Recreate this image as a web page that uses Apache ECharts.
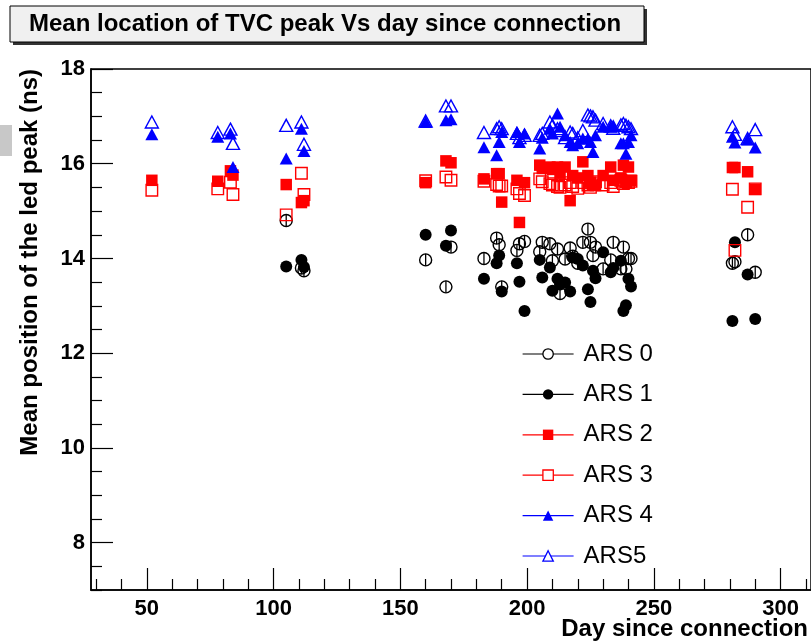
<!DOCTYPE html>
<html>
<head>
<meta charset="utf-8">
<script src="https://cdn.jsdelivr.net/npm/echarts@6/dist/echarts.min.js"></script>
<style>
  html, body { margin: 0; padding: 0; background: #fff; }
  #main { width: 811px; height: 642px; }
</style>
</head>
<body>
<div id="main"></div>
<script>
// Day since connection for each measurement
const days = [52, 78, 83, 84, 105, 111, 112, 160, 168, 170,
  183, 188, 189, 190, 196, 197, 199,
  205, 206, 209, 210, 212, 213, 215, 217, 218, 220, 222, 224, 225, 226, 227,
  230, 233, 234, 237, 238, 239, 240, 241,
  281, 282, 287, 290];

// Mean TVC peak position (ns) per ARS channel
const ars0 = [null, null, null, null, 14.80, 13.80, 13.74, 13.97, 13.40, 14.24,
  14.00, 14.43, 14.29, 13.40, 14.17, 14.31, 14.36,
  14.14, 14.34, 14.31, 13.95, 14.20, 13.26, 13.99, 14.22, 14.05, 13.90, 14.34, 14.62, 14.34, 14.06, 14.24,
  13.78, 13.97, 14.34, 13.78, 14.24, 13.78, 14.00, 14.00,
  13.90, 13.93, 14.50, 13.71];
const ars1 = [null, null, null, null, 13.83, 13.97, 13.82, 14.50, 14.27, 14.59,
  13.57, 13.90, 14.06, 13.30, 13.90, 13.51, 12.89,
  13.97, 13.60, 13.81, 13.32, 13.57, 13.45, 13.49, 13.30, 14.02, 13.99, 13.85, 13.35, 13.08, 13.74, 13.58,
  14.13, 13.71, 13.80, 13.95, 12.89, 13.01, 13.57, 13.41,
  12.68, 14.34, 13.66, 12.72];
const ars2 = [15.65, 15.63, 15.85, 15.76, 15.56, 15.18, 15.22, 15.60, 16.06, 16.02,
  15.68, 15.79, 15.79, 15.19, 15.65, 14.76, 15.60,
  15.97, 15.90, 15.93, 15.88, 15.93, 15.80, 15.93, 15.22, 15.75, 15.70, 16.04, 15.75, 15.61, 15.55, 15.54,
  15.75, 15.93, 15.65, 15.70, 15.97, 15.60, 15.93, 15.65,
  15.92, 15.92, 15.83, 15.46];
const ars3 = [15.44, 15.47, 15.61, 15.35, 14.92, 15.80, 15.35, 15.64, 15.72, 15.65,
  15.63, 15.56, 15.53, 15.53, 15.47, 15.37, 15.33,
  15.68, 15.62, 15.58, 15.55, 15.52, 15.50, 15.55, 15.60, 15.52, 15.48, 15.60, 15.55, 15.50, 15.58, 15.62,
  15.55, 15.60, 15.52, 15.65, 15.58, 15.62, 15.60, 15.63,
  15.46, 14.17, 15.08, 15.47];
const ars4 = [16.62, 16.57, 16.64, 15.93, 16.11, 16.74, 16.27, 16.88, 16.92, 16.94,
  16.35, 16.18, 16.46, 16.67, 16.67, 16.46, 16.64,
  16.32, 16.55, 16.74, 16.64, 17.06, 16.78, 16.60, 16.46, 16.39, 16.43, 16.53, 16.53, 16.46, 16.25, 16.60,
  16.78, 16.78, 16.81, 16.43, 16.43, 16.21, 16.46, 16.60,
  16.57, 16.45, 16.51, 16.34];
const ars5 = [16.88, 16.66, 16.73, 16.43, 16.81, 16.88, 16.41, 16.90, 17.22, 17.22,
  16.66, 16.74, 16.78, 16.74, 16.64, 16.55, 16.60,
  16.60, 16.64, 16.88, 16.81, 16.74, 16.70, 16.55, 16.67, 16.64, 16.55, 16.70, 17.03, 17.01, 16.99, 16.92,
  16.85, 16.80, 16.75, 16.82, 16.85, 16.81, 16.78, 16.74,
  16.78, 16.62, 16.53, 16.72];

// Axis ticks and labels
const xMajor = [50, 100, 150, 200, 250, 300];
const xMinor = [30, 40, 60, 70, 80, 90, 110, 120, 130, 140, 160, 170, 180, 190,
  210, 220, 230, 240, 260, 270, 280, 290, 310];
const yMajor = [8, 10, 12, 14, 16, 18];
const yMinor = [7, 7.5, 8.5, 9, 9.5, 10.5, 11, 11.5, 12.5, 13, 13.5, 14.5, 15, 15.5,
  16.5, 17, 17.5];

const FONT = '"Liberation Sans", Arial, Helvetica, sans-serif';

function points(vals) {
  return days.map((d, i) => vals[i] == null ? null : [d, vals[i]]).filter(p => p);
}

function markerSeries(name, vals, symbol, size, color, hollow) {
  return {
    name: name,
    type: 'line',
    data: points(vals),
    symbol: symbol,
    symbolSize: size,
    showSymbol: true,
    showAllSymbol: true,
    lineStyle: { width: 0, opacity: 0, color: color },
    itemStyle: hollow
      ? { color: 'rgba(0,0,0,0)', borderColor: color, borderWidth: 1.4 }
      : { color: color, borderWidth: 0 },
    emphasis: { disabled: true },
    silent: true,
    animation: false
  };
}

const chart = echarts.init(document.getElementById('main'), null, { renderer: 'canvas' });

const option = {
  backgroundColor: '#fff',
  animation: false,
  grid: {
    left: 91, top: 69, right: -1, bottom: 52,
    show: true, borderColor: '#000', borderWidth: 1.5, backgroundColor: 'rgba(0,0,0,0)'
  },
  xAxis: [{
    type: 'value', min: 28, max: 312,
    axisLine: { show: true, onZero: false, lineStyle: { color: '#000', width: 1.5 } },
    splitLine: { show: false },
    axisTick: { show: true, inside: true, length: 22, customValues: xMajor, lineStyle: { color: '#000', width: 1.2 } },
    axisLabel: { customValues: xMajor, fontSize: 22, fontWeight: 'bold', fontFamily: FONT, color: '#000', margin: 8 }
  }, {
    type: 'value', min: 28, max: 312, position: 'bottom',
    axisLine: { show: false, onZero: false },
    splitLine: { show: false },
    axisTick: { show: true, inside: true, length: 11, customValues: xMinor, lineStyle: { color: '#000', width: 1.2 } },
    axisLabel: { show: false }
  }],
  yAxis: [{
    type: 'value', min: 7, max: 18,
    axisLine: { show: true, onZero: false, lineStyle: { color: '#000', width: 1.5 } },
    splitLine: { show: false },
    axisTick: { show: true, inside: true, length: 22, customValues: yMajor, lineStyle: { color: '#000', width: 1.2 } },
    axisLabel: { customValues: yMajor, fontSize: 22, fontWeight: 'bold', fontFamily: FONT, color: '#000', margin: 6 }
  }, {
    type: 'value', min: 7, max: 18, position: 'left',
    axisLine: { show: false, onZero: false },
    splitLine: { show: false },
    axisTick: { show: true, inside: true, length: 11, customValues: yMinor, lineStyle: { color: '#000', width: 1.2 } },
    axisLabel: { show: false }
  }],
  legend: {
    orient: 'vertical',
    left: 522, top: 342, padding: 0,
    itemWidth: 51, itemHeight: 13, itemGap: 16.4,
    selectedMode: false,
    textStyle: { fontSize: 24, fontFamily: FONT, color: '#000', lineHeight: 24, padding: [0, 0, 0, 5] },
    lineStyle: { width: 1.2, opacity: 1 },
    data: [
      { name: 'ARS 0', itemStyle: { color: '#fff', borderColor: '#000', borderWidth: 1.3 } },
      { name: 'ARS 1', itemStyle: { color: '#000', borderWidth: 0 } },
      { name: 'ARS 2', itemStyle: { color: '#ff0000', borderWidth: 0 } },
      { name: 'ARS 3', itemStyle: { color: '#fff', borderColor: '#ff0000', borderWidth: 1.3 } },
      { name: 'ARS 4', itemStyle: { color: '#0000ff', borderWidth: 0 } },
      { name: 'ARS5', itemStyle: { color: '#fff', borderColor: '#0000ff', borderWidth: 1.3 } }
    ]
  },
  series: [
    markerSeries('ARS 0', ars0, 'circle', 12, '#000', true),
    // vertical error-bar stroke drawn through each open circle
    {
      name: 'ARS 0 error', type: 'line', data: points(ars0),
      symbol: 'path://M0,0h1v1h-1z', symbolSize: [1.3, 12], showSymbol: true, showAllSymbol: true,
      lineStyle: { width: 0, opacity: 0 }, itemStyle: { color: '#000' },
      emphasis: { disabled: true }, silent: true, animation: false
    },
    markerSeries('ARS 1', ars1, 'circle', 12, '#000', false),
    markerSeries('ARS 2', ars2, 'rect', 11.5, '#ff0000', false),
    markerSeries('ARS 3', ars3, 'rect', 11.5, '#ff0000', true),
    markerSeries('ARS 4', ars4, 'triangle', [13, 12], '#0000ff', false),
    markerSeries('ARS5', ars5, 'triangle', [13, 12], '#0000ff', true)
  ],
  graphic: [
    { type: 'rect', z: 0, shape: { x: 0, y: 125, width: 12, height: 31 }, style: { fill: '#c8c8c8' } },
    { type: 'rect', z: 10, shape: { x: 13, y: 9, width: 634, height: 36 }, style: { fill: '#333' } },
    { type: 'rect', z: 11, shape: { x: 10, y: 6, width: 634, height: 36 }, style: { fill: '#f0f0f0', stroke: '#000', lineWidth: 1 } },
    { type: 'text', z: 12, x: 29, y: 24,
      style: { text: 'Mean location of TVC peak Vs day since connection', font: 'bold 24px ' + FONT,
        fill: '#000', textAlign: 'left', textVerticalAlign: 'middle' } },
    { type: 'text', z: 12, x: 30, y: 69, rotation: Math.PI / 2,
      style: { text: 'Mean position of the led peak (ns)', font: 'bold 24px ' + FONT,
        fill: '#000', textAlign: 'right', textVerticalAlign: 'middle' } },
    { type: 'text', z: 12, x: 808, y: 629,
      style: { text: 'Day since connection', font: 'bold 24px ' + FONT,
        fill: '#000', textAlign: 'right', textVerticalAlign: 'middle' } }
  ]
};

chart.setOption(option);
</script>
</body>
</html>
